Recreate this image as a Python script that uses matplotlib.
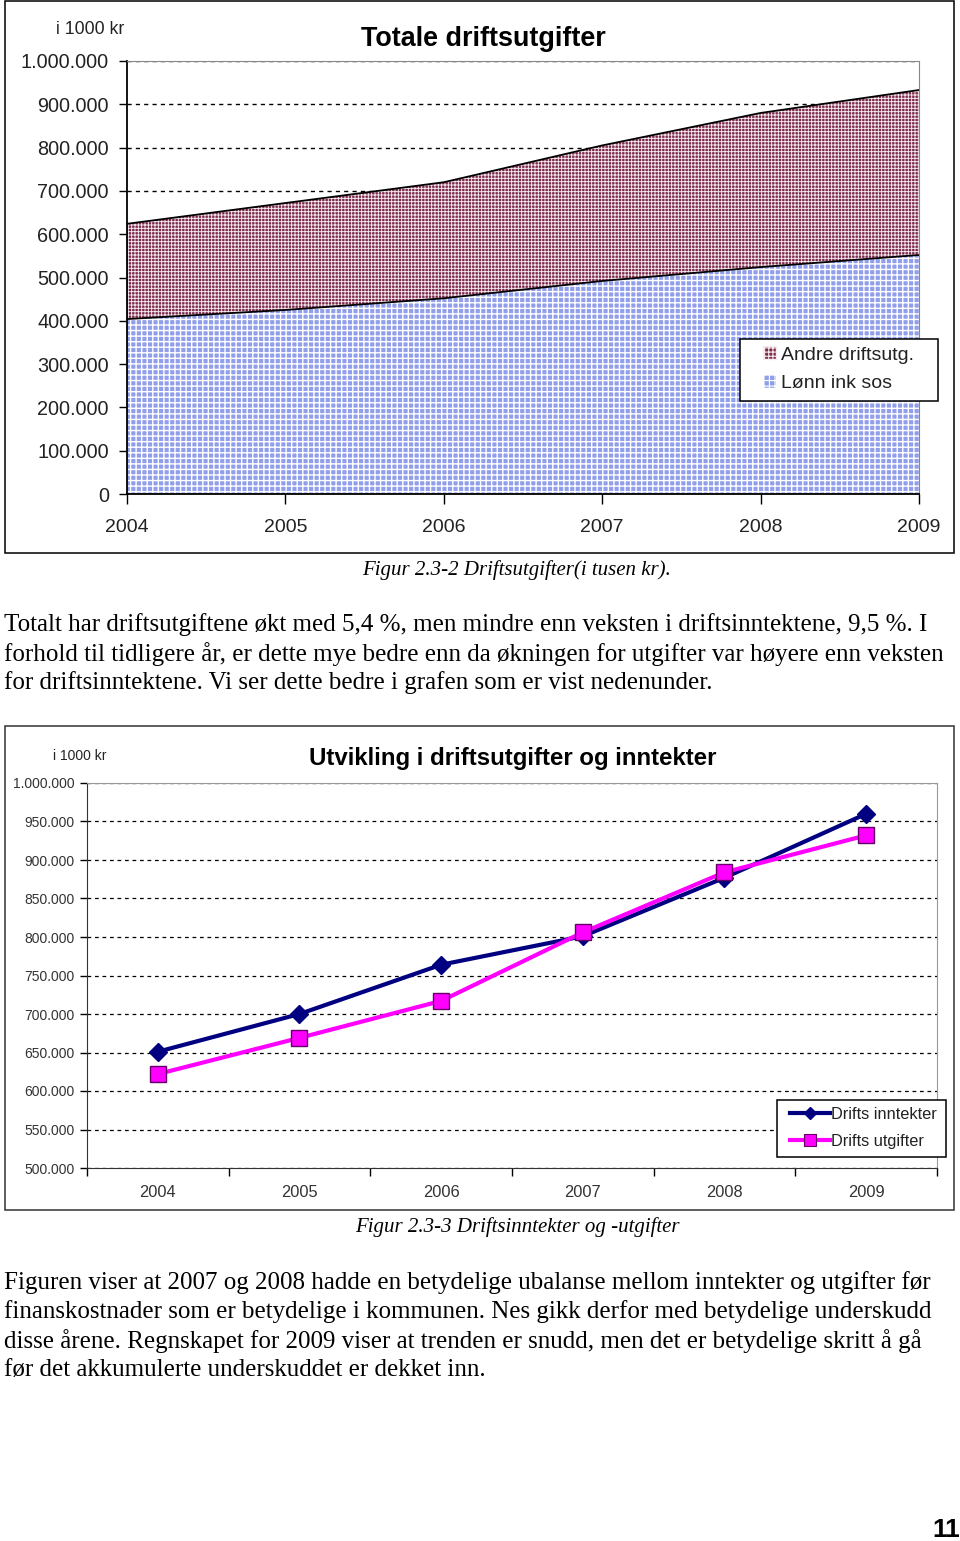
import matplotlib
matplotlib.use("Agg")
import matplotlib.pyplot as plt
from matplotlib.patches import Patch, Rectangle
from matplotlib.lines import Line2D
from matplotlib.ticker import FuncFormatter

# data (i 1000 kr)
years = [2004, 2005, 2006, 2007, 2008, 2009]
year_labels = ["2004", "2005", "2006", "2007", "2008", "2009"]
lonn = [404000, 425000, 452000, 492000, 524000, 552000]
andre = [220000, 247000, 268000, 313000, 356000, 381000]
inntekter = [651000, 700000, 764000, 801000, 877000, 960000]
utgifter = [622000, 669000, 717000, 806000, 884000, 932000]

para1 = [
    "Totalt har driftsutgiftene økt med 5,4 %, men mindre enn veksten i driftsinntektene, 9,5 %. I",
    "forhold til tidligere år, er dette mye bedre enn da økningen for utgifter var høyere enn veksten",
    "for driftsinntektene. Vi ser dette bedre i grafen som er vist nedenunder.",
]
para2 = [
    "Figuren viser at 2007 og 2008 hadde en betydelige ubalanse mellom inntekter og utgifter før",
    "finanskostnader som er betydelige i kommunen. Nes gikk derfor med betydelige underskudd",
    "disse årene. Regnskapet for 2009 viser at trenden er snudd, men det er betydelige skritt å gå",
    "før det akkumulerte underskuddet er dekket inn.",
]

W, H = 960, 1541
plt.rcParams["font.family"] = ["Liberation Sans", "DejaVu Sans"]
plt.rcParams["hatch.linewidth"] = 1.0

fig = plt.figure(figsize=(W / 100, H / 100), dpi=100)


def fx(x):
    return x / W


def fy(y):
    return 1 - y / H


def px_axes(x0, y0, x1, y1):
    return fig.add_axes([fx(x0), fy(y1), (x1 - x0) / W, (y1 - y0) / H])


def px_box(x0, y0, x1, y1, color="black", fill=False):
    r = Rectangle((fx(x0), fy(y1)), (x1 - x0) / W, (y1 - y0) / H, transform=fig.transFigure,
                  fill=fill, facecolor="white", edgecolor=color, linewidth=1.1)
    fig.patches.append(r)


def dotted(v, pos):
    return f"{int(v):,}".replace(",", ".")


# chart frames
px_box(5, 1, 954, 553)
px_box(5, 726, 954, 1210, color="#333333")

# ---- chart 1: totale driftsutgifter ----
ax1 = px_axes(127, 61, 919, 494)
total = [a + b for a, b in zip(lonn, andre)]
maroon = "#7e2a4c"
maroon_hatch = "#f6ecf0"
blue = "#919fea"
plt.rcParams["hatch.linewidth"] = 1.0
ax1.fill_between(years, 0, lonn, facecolor=blue, edgecolor="white", hatch="+++", linewidth=0)
plt.rcParams["hatch.linewidth"] = 0.65
ax1.fill_between(years, lonn, total, facecolor=maroon, edgecolor=maroon_hatch, hatch="+++++", linewidth=0)
ax1.plot(years, lonn, color="black", linewidth=1.3)
ax1.plot(years, total, color="black", linewidth=1.3)
ax1.set_xlim(2004, 2009)
ax1.set_ylim(0, 1000000)
ax1.set_yticks(range(0, 1000001, 100000))
ax1.yaxis.set_major_formatter(FuncFormatter(dotted))
ax1.set_xticks(years)
ax1.set_xticklabels(year_labels)
ax1.grid(axis="y", linestyle=(0, (3, 3)), color="black", linewidth=1)
ax1.set_axisbelow(True)
ax1.tick_params(axis="y", direction="out", length=6, width=1, labelsize=14.3, colors="black", pad=7)
ax1.tick_params(axis="x", direction="out", length=7, width=1, labelsize=14, pad=11)
for t in ax1.get_yticklabels() + ax1.get_xticklabels():
    t.set_color("#222222")
ax1.spines["top"].set_color("#888888")
ax1.spines["right"].set_color("#888888")
ax1.spines["left"].set_linewidth(1.3)
ax1.spines["bottom"].set_linewidth(1.3)

fig.text(fx(483), fy(39), "Totale driftsutgifter", fontsize=19.4, fontweight="bold", ha="center", va="center")
fig.text(fx(90), fy(29), "i 1000 kr", fontsize=12.8, ha="center", va="center", color="#222222")

# legend 1: separate white box, frameless legend on top
px_box(740, 339, 938, 401, fill=True)
plt.rcParams["hatch.linewidth"] = 0.8
h1 = [Patch(facecolor=maroon, edgecolor=maroon_hatch, hatch="++++", label="Andre driftsutg."),
      Patch(facecolor=blue, edgecolor="white", hatch="+++", label="Lønn ink sos")]
leg1 = fig.legend(handles=h1, loc="center left", bbox_to_anchor=(fx(763), fy(369)),
                  fontsize=14, frameon=False, handlelength=0.67, handleheight=0.67,
                  handletextpad=0.26, borderpad=0, labelspacing=0.55, borderaxespad=0)
for t in leg1.get_texts():
    t.set_color("#222222")

fig.text(fx(517), fy(570), "Figur 2.3-2 Driftsutgifter(i tusen kr).", fontsize=15, style="italic",
         family="Liberation Serif", ha="center", va="center")

for i, line in enumerate(para1):
    fig.text(fx(4), fy(625 + 29 * i), line, fontsize=18, family="Liberation Serif", ha="left", va="center")

# ---- chart 2: utvikling i driftsutgifter og inntekter ----
ax2 = px_axes(87, 783, 937, 1168)
x = list(range(len(years)))
ax2.plot(x, inntekter, color="#000080", linewidth=3, marker="D", markersize=9,
         markerfacecolor="#000080", markeredgecolor="#000080", label="Drifts inntekter", zorder=3)
ax2.plot(x, utgifter, color="#ff00ff", linewidth=3, marker="s", markersize=12,
         markerfacecolor="#ff00ff", markeredgecolor="#660066", markeredgewidth=1, label="Drifts utgifter", zorder=4)
ax2.set_xlim(-0.5, 5.5)
ax2.set_ylim(500000, 1000000)
ax2.set_yticks(range(500000, 1000001, 50000))
ax2.yaxis.set_major_formatter(FuncFormatter(dotted))
ax2.set_xticks([i - 0.5 for i in range(7)])
ax2.set_xticklabels([])
ax2.set_xticks(x, minor=True)
ax2.set_xticklabels(year_labels, minor=True)
ax2.tick_params(axis="x", which="minor", length=0, labelsize=11.8, pad=12)
ax2.tick_params(axis="x", which="major", direction="out", length=6, width=1)
ax2.tick_params(axis="y", direction="out", length=5, width=1, labelsize=10, pad=4)
for t in ax2.get_yticklabels() + ax2.get_xticklabels(minor=True):
    t.set_color("#333333")
ax2.grid(axis="y", linestyle=(0, (3, 3)), color="black", linewidth=0.9)
ax2.set_axisbelow(True)
ax2.spines["top"].set_color("#999999")
ax2.spines["right"].set_color("#999999")
ax2.spines["left"].set_color("#333333")
ax2.spines["bottom"].set_color("#333333")

fig.text(fx(513), fy(758), "Utvikling i driftsutgifter og inntekter", fontsize=17.3, fontweight="bold",
         ha="center", va="center")
fig.text(fx(80), fy(756), "i 1000 kr", fontsize=10, ha="center", va="center", color="#222222")

# legend 2
px_box(777, 1100, 946, 1157, fill=True)
h2 = [Line2D([], [], color="#000080", linewidth=3, marker="D", markersize=6, label="Drifts inntekter"),
      Line2D([], [], color="#ff00ff", linewidth=3, marker="s", markersize=8,
             markeredgecolor="#660066", markeredgewidth=0.8, label="Drifts utgifter")]
leg2 = fig.legend(handles=h2, loc="center left", bbox_to_anchor=(fx(790), fy(1128)),
                  fontsize=11.8, frameon=False, handlelength=2.44, handletextpad=0.05,
                  borderpad=0, labelspacing=0.72, borderaxespad=0)
for t in leg2.get_texts():
    t.set_color("#222222")

fig.text(fx(517), fy(1227), "Figur 2.3-3 Driftsinntekter og -utgifter", fontsize=15, style="italic",
         family="Liberation Serif", ha="center", va="center")

for i, line in enumerate(para2):
    fig.text(fx(4), fy(1283 + 29 * i), line, fontsize=18, family="Liberation Serif", ha="left", va="center")

fig.text(fx(960), fy(1530), "11", fontsize=19, fontweight="bold", ha="right", va="center")

fig.savefig("out.png", dpi=100)
